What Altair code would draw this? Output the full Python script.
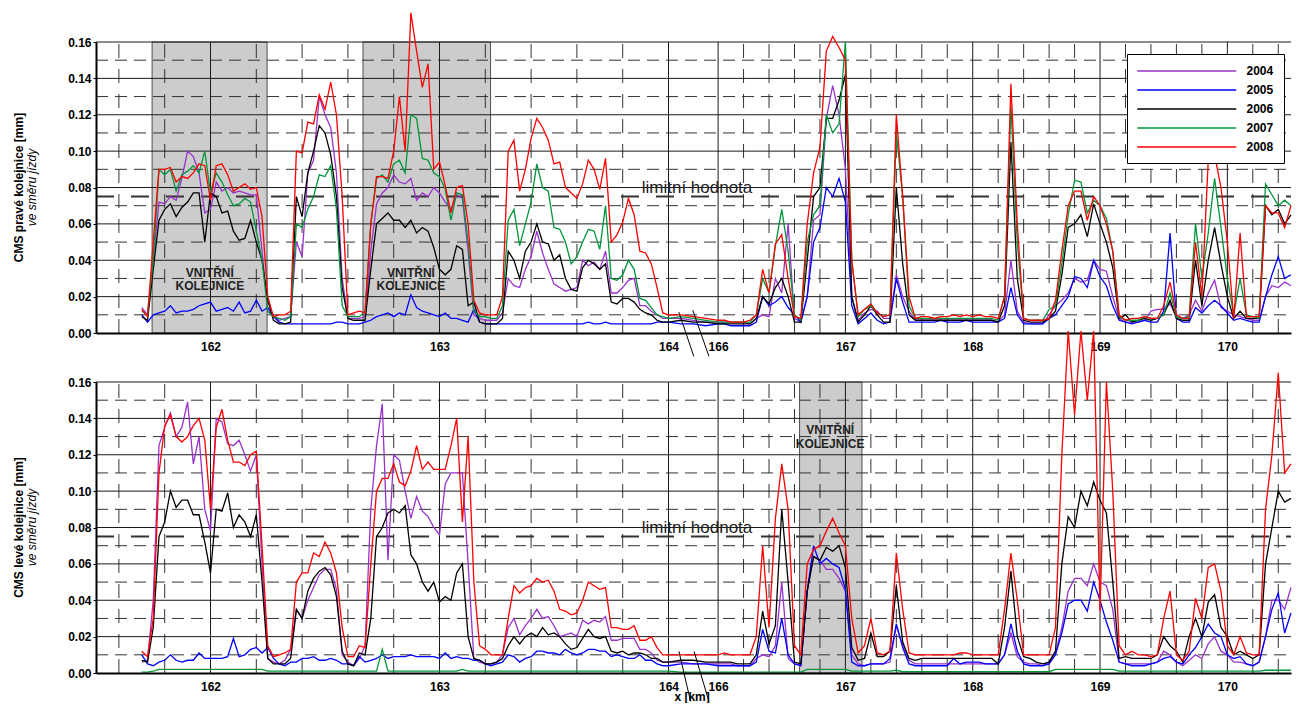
import altair as alt
import pandas as pd

# Measurement positions along the track [km]; 164-166 is a shortened gap
KM_WEST = [round(161.7 + 0.025 * i, 3) for i in range(93)]
KM_GAP = [164.5, 165.0, 165.5]
KM_EAST = [round(166.0 + 0.05 * j, 2) for j in range(91)]
KM = KM_WEST + KM_GAP + KM_EAST

YEARS = ["2004", "2005", "2006", "2007", "2008"]
YEAR_COLORS = ["#9932CC", "#0000FF", "#000000", "#00963C", "#FF0000"]

KM_TICKS = [162, 163, 164, 166, 167, 168, 169, 170]
KM_MINOR = [161.6, 161.8, 162.2, 162.4, 162.6, 162.8, 163.2, 163.4, 163.6, 163.8,
            166.2, 166.4, 166.6, 166.8, 167.2, 167.4, 167.6, 167.8, 168.2, 168.4,
            168.6, 168.8, 169.2, 169.4, 169.6, 169.8, 170.2, 170.4]
CMS_TICKS = [0.0, 0.02, 0.04, 0.06, 0.08, 0.10, 0.12, 0.14, 0.16]
CMS_MINOR = [0.01, 0.03, 0.05, 0.07, 0.09, 0.11, 0.13, 0.15]
LIMIT = 0.075
KM_MIN, KM_MAX = 161.5, 170.5

# --- right rail (pravá kolejnice) -------------------------------------------
PRAVA_2004 = [
    0.014, 0.010, 0.040, 0.072, 0.071, 0.075, 0.073, 0.085, 0.100, 0.097,
    0.088, 0.066, 0.068, 0.083, 0.078, 0.080, 0.077, 0.078, 0.077, 0.076,
    0.076, 0.045, 0.012, 0.009, 0.007, 0.008, 0.009, 0.050, 0.042, 0.088,
    0.095, 0.130, 0.120, 0.113, 0.088, 0.030, 0.008, 0.008, 0.008, 0.009,
    0.045, 0.071, 0.077, 0.080, 0.087, 0.083, 0.082, 0.085, 0.073, 0.077,
    0.075, 0.080, 0.077, 0.072, 0.068, 0.076, 0.074, 0.045, 0.010, 0.008,
    0.007, 0.007, 0.007, 0.011, 0.030, 0.026, 0.025, 0.035, 0.042, 0.056,
    0.044, 0.035, 0.027, 0.025, 0.023, 0.024, 0.025, 0.040, 0.037, 0.039,
    0.035, 0.045, 0.022, 0.022, 0.025, 0.029, 0.030, 0.015, 0.015, 0.012,
    0.010, 0.008, 0.008,
    0.008, 0.007, 0.006,
    0.006, 0.006, 0.006, 0.006, 0.006, 0.005, 0.008, 0.010, 0.009, 0.030,
    0.022, 0.060, 0.008, 0.006, 0.020, 0.062, 0.065, 0.118, 0.136, 0.120,
    0.090, 0.020, 0.007, 0.011, 0.013, 0.012, 0.008, 0.008, 0.032, 0.020,
    0.012, 0.007, 0.007, 0.007, 0.007, 0.007, 0.007, 0.007, 0.007, 0.007,
    0.007, 0.007, 0.007, 0.007, 0.006, 0.010, 0.040, 0.012, 0.006, 0.005,
    0.005, 0.005, 0.010, 0.015, 0.018, 0.022, 0.030, 0.028, 0.029, 0.040,
    0.035, 0.034, 0.020, 0.008, 0.006, 0.006, 0.006, 0.007, 0.012, 0.013,
    0.013, 0.016, 0.009, 0.008, 0.010, 0.018, 0.012, 0.022, 0.029, 0.014,
    0.012, 0.010, 0.009, 0.008, 0.007, 0.007, 0.020, 0.026, 0.025, 0.028,
    0.026,
]
PRAVA_2005 = [
    0.010, 0.006, 0.010, 0.011, 0.012, 0.015, 0.011, 0.012, 0.012, 0.013,
    0.015, 0.016, 0.017, 0.012, 0.013, 0.014, 0.012, 0.017, 0.011, 0.012,
    0.018, 0.012, 0.014, 0.009, 0.006, 0.005, 0.005, 0.005, 0.005, 0.005,
    0.005, 0.005, 0.005, 0.005, 0.006, 0.006, 0.005, 0.005, 0.005, 0.006,
    0.007, 0.009, 0.010, 0.011, 0.009, 0.011, 0.010, 0.021, 0.014, 0.012,
    0.011, 0.010, 0.009, 0.011, 0.008, 0.008, 0.007, 0.006, 0.013, 0.006,
    0.005, 0.005, 0.005, 0.005, 0.005, 0.005, 0.005, 0.005, 0.005, 0.005,
    0.005, 0.005, 0.005, 0.005, 0.005, 0.005, 0.005, 0.005, 0.006, 0.005,
    0.005, 0.006, 0.005, 0.005, 0.005, 0.005, 0.005, 0.005, 0.005, 0.005,
    0.006, 0.006, 0.006,
    0.005, 0.005, 0.004,
    0.005, 0.005, 0.004, 0.004, 0.004, 0.004, 0.006, 0.020, 0.015, 0.017,
    0.020, 0.014, 0.010, 0.006, 0.020, 0.050, 0.058, 0.080, 0.075, 0.085,
    0.072, 0.015, 0.005, 0.008, 0.011, 0.007, 0.005, 0.006, 0.030, 0.017,
    0.006, 0.006, 0.006, 0.006, 0.006, 0.007, 0.006, 0.006, 0.006, 0.007,
    0.006, 0.006, 0.006, 0.006, 0.006, 0.008, 0.025, 0.010, 0.005, 0.005,
    0.005, 0.005, 0.008, 0.010, 0.015, 0.020, 0.031, 0.030, 0.025, 0.040,
    0.031, 0.026, 0.015, 0.007, 0.006, 0.005, 0.006, 0.007, 0.006, 0.006,
    0.012, 0.055, 0.008, 0.006, 0.006, 0.014, 0.011, 0.015, 0.018, 0.015,
    0.011, 0.007, 0.008, 0.007, 0.006, 0.006, 0.020, 0.032, 0.042, 0.030,
    0.032,
]
PRAVA_2006 = [
    0.009, 0.007, 0.035, 0.062, 0.068, 0.071, 0.064, 0.069, 0.072, 0.077,
    0.077, 0.050, 0.077, 0.075, 0.066, 0.067, 0.056, 0.051, 0.052, 0.062,
    0.050, 0.040, 0.018, 0.007, 0.005, 0.005, 0.006, 0.075, 0.064, 0.088,
    0.100, 0.114, 0.110, 0.098, 0.075, 0.025, 0.008, 0.007, 0.007, 0.007,
    0.035, 0.060, 0.063, 0.066, 0.062, 0.062, 0.058, 0.062, 0.055, 0.058,
    0.056, 0.047, 0.035, 0.032, 0.035, 0.048, 0.046, 0.015, 0.017, 0.006,
    0.005, 0.005, 0.005, 0.008, 0.045, 0.040, 0.030, 0.045, 0.050, 0.060,
    0.050, 0.049, 0.040, 0.043, 0.030, 0.024, 0.023, 0.036, 0.040, 0.038,
    0.035, 0.038, 0.017, 0.016, 0.019, 0.019, 0.017, 0.013, 0.011, 0.010,
    0.007, 0.006, 0.006,
    0.007, 0.006, 0.006,
    0.005, 0.005, 0.005, 0.005, 0.005, 0.005, 0.008, 0.020, 0.016, 0.025,
    0.030, 0.020, 0.006, 0.006, 0.040, 0.075, 0.080, 0.118, 0.118, 0.128,
    0.142, 0.020, 0.006, 0.010, 0.015, 0.010, 0.006, 0.006, 0.080, 0.038,
    0.010, 0.007, 0.007, 0.007, 0.007, 0.007, 0.007, 0.007, 0.007, 0.007,
    0.007, 0.007, 0.007, 0.007, 0.006, 0.015, 0.105, 0.030, 0.007, 0.006,
    0.006, 0.006, 0.008, 0.012, 0.032, 0.058, 0.060, 0.065, 0.053, 0.071,
    0.060, 0.050, 0.036, 0.008, 0.010, 0.006, 0.007, 0.008, 0.007, 0.008,
    0.010, 0.018, 0.008, 0.007, 0.007, 0.040, 0.015, 0.040, 0.058, 0.038,
    0.020, 0.008, 0.012, 0.008, 0.008, 0.008, 0.070, 0.065, 0.068, 0.060,
    0.065,
]
PRAVA_2007 = [
    0.012, 0.010, 0.040, 0.090, 0.087, 0.090, 0.078, 0.087, 0.089, 0.092,
    0.088, 0.100, 0.077, 0.088, 0.083, 0.076, 0.070, 0.071, 0.074, 0.072,
    0.056, 0.040, 0.012, 0.009, 0.008, 0.007, 0.009, 0.060, 0.058, 0.068,
    0.075, 0.087, 0.086, 0.092, 0.068, 0.015, 0.009, 0.009, 0.009, 0.012,
    0.060, 0.085, 0.087, 0.083, 0.093, 0.095, 0.088, 0.120, 0.118, 0.096,
    0.095, 0.088, 0.086, 0.079, 0.062, 0.077, 0.076, 0.050, 0.012, 0.009,
    0.009, 0.008, 0.008, 0.015, 0.062, 0.068, 0.048, 0.060, 0.072, 0.093,
    0.080, 0.078, 0.058, 0.057, 0.050, 0.038, 0.042, 0.050, 0.057, 0.056,
    0.046, 0.070, 0.030, 0.029, 0.032, 0.040, 0.035, 0.019, 0.018, 0.014,
    0.010, 0.009, 0.008,
    0.009, 0.008, 0.007,
    0.006, 0.006, 0.006, 0.006, 0.006, 0.006, 0.010, 0.030, 0.022, 0.048,
    0.068, 0.045, 0.010, 0.007, 0.050, 0.065, 0.070, 0.120, 0.110, 0.115,
    0.160, 0.040, 0.009, 0.013, 0.015, 0.011, 0.009, 0.010, 0.110, 0.075,
    0.015, 0.008, 0.008, 0.008, 0.008, 0.008, 0.008, 0.008, 0.008, 0.008,
    0.008, 0.008, 0.008, 0.008, 0.007, 0.020, 0.125, 0.050, 0.008, 0.007,
    0.007, 0.007, 0.013, 0.015, 0.038, 0.065, 0.084, 0.083, 0.066, 0.073,
    0.070, 0.063, 0.045, 0.009, 0.007, 0.007, 0.007, 0.009, 0.008, 0.008,
    0.010, 0.022, 0.009, 0.008, 0.009, 0.060, 0.030, 0.055, 0.085, 0.058,
    0.030, 0.010, 0.030, 0.010, 0.009, 0.008, 0.082, 0.076, 0.070, 0.073,
    0.070,
]
PRAVA_2008 = [
    0.013, 0.009, 0.050, 0.090, 0.090, 0.091, 0.083, 0.086, 0.085, 0.088,
    0.093, 0.092, 0.073, 0.092, 0.093, 0.087, 0.078, 0.080, 0.082, 0.079,
    0.080, 0.064, 0.020, 0.009, 0.010, 0.010, 0.012, 0.100, 0.099, 0.116,
    0.115, 0.131, 0.123, 0.138, 0.120, 0.075, 0.010, 0.011, 0.012, 0.011,
    0.060, 0.086, 0.086, 0.085, 0.100, 0.130, 0.100, 0.176, 0.155, 0.135,
    0.148, 0.090, 0.094, 0.081, 0.066, 0.080, 0.081, 0.060, 0.018, 0.011,
    0.010, 0.010, 0.010, 0.020, 0.100, 0.106, 0.078, 0.090, 0.107, 0.118,
    0.113, 0.106, 0.093, 0.094, 0.080, 0.077, 0.074, 0.082, 0.095, 0.090,
    0.079, 0.096, 0.050, 0.054, 0.061, 0.074, 0.065, 0.045, 0.044, 0.038,
    0.025, 0.011, 0.010,
    0.010, 0.009, 0.008,
    0.007, 0.007, 0.006, 0.006, 0.006, 0.007, 0.010, 0.035, 0.022, 0.049,
    0.054, 0.030, 0.009, 0.008, 0.060, 0.088, 0.102, 0.155, 0.163, 0.157,
    0.150, 0.040, 0.010, 0.013, 0.016, 0.011, 0.009, 0.010, 0.120, 0.075,
    0.020, 0.008, 0.009, 0.009, 0.008, 0.009, 0.009, 0.010, 0.009, 0.010,
    0.009, 0.010, 0.009, 0.009, 0.008, 0.020, 0.137, 0.060, 0.008, 0.007,
    0.007, 0.007, 0.008, 0.018, 0.045, 0.070, 0.078, 0.078, 0.062, 0.075,
    0.070, 0.060, 0.045, 0.010, 0.007, 0.008, 0.008, 0.009, 0.008, 0.008,
    0.015, 0.028, 0.010, 0.008, 0.008, 0.050, 0.020, 0.095, 0.098, 0.080,
    0.050, 0.008, 0.055, 0.009, 0.009, 0.009, 0.070, 0.066, 0.066, 0.058,
    0.070,
]

# --- left rail (levá kolejnice) ---------------------------------------------
LEVA_2004 = [
    0.006, 0.007, 0.040, 0.125, 0.135, 0.143, 0.130, 0.135, 0.149, 0.115,
    0.130, 0.090, 0.078, 0.140, 0.138, 0.126, 0.125, 0.128, 0.120, 0.111,
    0.120, 0.060, 0.008, 0.006, 0.005, 0.007, 0.013, 0.035, 0.030, 0.040,
    0.047, 0.054, 0.057, 0.057, 0.046, 0.010, 0.006, 0.004, 0.008, 0.015,
    0.090, 0.125, 0.148, 0.062, 0.120, 0.117, 0.100, 0.085, 0.097, 0.089,
    0.086, 0.080, 0.076, 0.104, 0.110, 0.110, 0.110, 0.060, 0.008, 0.006,
    0.005, 0.005, 0.006, 0.010, 0.025, 0.030, 0.021, 0.026, 0.030, 0.035,
    0.030, 0.031, 0.026, 0.020, 0.021, 0.022, 0.020, 0.029, 0.027, 0.029,
    0.028, 0.031, 0.018, 0.018, 0.019, 0.019, 0.019, 0.013, 0.013, 0.011,
    0.007, 0.006, 0.006,
    0.006, 0.005, 0.005,
    0.005, 0.005, 0.005, 0.004, 0.004, 0.004, 0.008, 0.010, 0.009, 0.015,
    0.050, 0.008, 0.005, 0.004, 0.045, 0.064, 0.062, 0.057, 0.057, 0.052,
    0.045, 0.010, 0.005, 0.004, 0.005, 0.005, 0.005, 0.006, 0.026, 0.015,
    0.007, 0.005, 0.005, 0.005, 0.005, 0.005, 0.005, 0.005, 0.005, 0.005,
    0.005, 0.005, 0.005, 0.005, 0.005, 0.010, 0.022, 0.009, 0.006, 0.005,
    0.005, 0.004, 0.006, 0.011, 0.025, 0.045, 0.052, 0.052, 0.048, 0.060,
    0.050, 0.048, 0.035, 0.006, 0.005, 0.005, 0.005, 0.005, 0.005, 0.006,
    0.012, 0.010, 0.006, 0.004, 0.007, 0.010, 0.008, 0.016, 0.020, 0.012,
    0.010, 0.006, 0.006, 0.005, 0.004, 0.006, 0.020, 0.040, 0.040, 0.035,
    0.047,
]
LEVA_2005 = [
    0.010, 0.005, 0.004, 0.006, 0.007, 0.010, 0.007, 0.006, 0.007, 0.007,
    0.011, 0.008, 0.008, 0.008, 0.008, 0.009, 0.019, 0.009, 0.010, 0.013,
    0.014, 0.011, 0.014, 0.008, 0.005, 0.004, 0.006, 0.006, 0.008, 0.008,
    0.009, 0.007, 0.007, 0.008, 0.007, 0.005, 0.005, 0.004, 0.009, 0.006,
    0.007, 0.008, 0.010, 0.008, 0.009, 0.009, 0.009, 0.010, 0.009, 0.009,
    0.009, 0.009, 0.008, 0.011, 0.008, 0.009, 0.008, 0.008, 0.007, 0.007,
    0.005, 0.004, 0.005, 0.006, 0.010, 0.009, 0.006, 0.008, 0.009, 0.012,
    0.012, 0.011, 0.011, 0.010, 0.013, 0.011, 0.010, 0.011, 0.013, 0.013,
    0.012, 0.012, 0.009, 0.010, 0.009, 0.008, 0.008, 0.010, 0.007, 0.007,
    0.005, 0.004, 0.004,
    0.005, 0.005, 0.005,
    0.004, 0.004, 0.004, 0.004, 0.004, 0.004, 0.006, 0.024, 0.012, 0.011,
    0.030, 0.010, 0.005, 0.004, 0.045, 0.070, 0.060, 0.063, 0.060, 0.058,
    0.046, 0.006, 0.004, 0.004, 0.005, 0.005, 0.005, 0.008, 0.027, 0.014,
    0.005, 0.004, 0.004, 0.004, 0.004, 0.004, 0.004, 0.008, 0.005, 0.006,
    0.006, 0.006, 0.005, 0.005, 0.005, 0.010, 0.027, 0.012, 0.005, 0.004,
    0.004, 0.004, 0.005, 0.010, 0.022, 0.038, 0.040, 0.040, 0.034, 0.050,
    0.040, 0.028, 0.018, 0.006, 0.005, 0.004, 0.004, 0.004, 0.005, 0.006,
    0.008, 0.009, 0.006, 0.005, 0.010, 0.014, 0.020, 0.027, 0.022, 0.020,
    0.010, 0.008, 0.009, 0.005, 0.004, 0.006, 0.020, 0.035, 0.044, 0.022,
    0.033,
]
LEVA_2006 = [
    0.007, 0.006, 0.025, 0.075, 0.083, 0.100, 0.091, 0.095, 0.095, 0.087,
    0.087, 0.072, 0.055, 0.090, 0.089, 0.099, 0.080, 0.087, 0.083, 0.075,
    0.087, 0.050, 0.008, 0.005, 0.005, 0.005, 0.008, 0.035, 0.030, 0.045,
    0.052, 0.056, 0.058, 0.054, 0.042, 0.012, 0.005, 0.004, 0.011, 0.010,
    0.030, 0.075, 0.080, 0.088, 0.090, 0.088, 0.092, 0.065, 0.060, 0.050,
    0.045, 0.050, 0.039, 0.042, 0.040, 0.055, 0.060, 0.020, 0.008, 0.007,
    0.005, 0.005, 0.006, 0.008, 0.015, 0.020, 0.016, 0.020, 0.022, 0.020,
    0.025, 0.021, 0.022, 0.020, 0.016, 0.013, 0.014, 0.019, 0.024, 0.020,
    0.019, 0.020, 0.012, 0.011, 0.012, 0.010, 0.011, 0.011, 0.010, 0.008,
    0.008, 0.006, 0.006,
    0.007, 0.007, 0.006,
    0.006, 0.006, 0.006, 0.005, 0.005, 0.005, 0.010, 0.034, 0.016, 0.026,
    0.090, 0.050, 0.006, 0.005, 0.045, 0.064, 0.062, 0.069, 0.067, 0.070,
    0.058, 0.014, 0.007, 0.008, 0.022, 0.009, 0.009, 0.012, 0.048, 0.017,
    0.008, 0.007, 0.008, 0.008, 0.008, 0.008, 0.008, 0.008, 0.008, 0.008,
    0.008, 0.008, 0.008, 0.008, 0.005, 0.025, 0.056, 0.020, 0.009, 0.008,
    0.006, 0.005, 0.006, 0.012, 0.060, 0.086, 0.080, 0.100, 0.092, 0.105,
    0.095, 0.088, 0.050, 0.008, 0.009, 0.008, 0.008, 0.008, 0.008, 0.010,
    0.020, 0.015, 0.012, 0.006, 0.020, 0.030, 0.020, 0.039, 0.043, 0.025,
    0.020, 0.010, 0.012, 0.010, 0.008, 0.010, 0.060, 0.080, 0.100, 0.094,
    0.096,
]
LEVA_2007 = [
    0.0005, 0.0005, 0.001, 0.002, 0.002, 0.002, 0.002, 0.002, 0.002, 0.002,
    0.002, 0.002, 0.002, 0.002, 0.002, 0.002, 0.002, 0.002, 0.002, 0.002,
    0.002, 0.002, 0.001, 0.001, 0.001, 0.001, 0.001, 0.001, 0.001, 0.001,
    0.001, 0.001, 0.001, 0.001, 0.001, 0.001, 0.001, 0.001, 0.001, 0.001,
    0.001, 0.001, 0.013, 0.001, 0.001, 0.001, 0.001, 0.001, 0.001, 0.001,
    0.001, 0.001, 0.001, 0.001, 0.001, 0.001, 0.002, 0.001, 0.001, 0.001,
    0.001, 0.001, 0.001, 0.001, 0.001, 0.001, 0.001, 0.001, 0.001, 0.001,
    0.001, 0.001, 0.001, 0.001, 0.001, 0.001, 0.001, 0.001, 0.001, 0.001,
    0.001, 0.001, 0.001, 0.001, 0.001, 0.001, 0.001, 0.001, 0.001, 0.001,
    0.001, 0.001, 0.001,
    0.0005, 0.0005, 0.0005,
    0.0005, 0.0005, 0.0005, 0.0005, 0.0005, 0.0005, 0.0005, 0.0005, 0.0005, 0.0005,
    0.0005, 0.0005, 0.0005, 0.0005, 0.002, 0.002, 0.002, 0.002, 0.002, 0.002,
    0.002, 0.001, 0.001, 0.001, 0.001, 0.001, 0.001, 0.001, 0.0015, 0.0007,
    0.0007, 0.0007, 0.0007, 0.0007, 0.0007, 0.0007, 0.0007, 0.0007, 0.0007, 0.0007,
    0.0007, 0.0007, 0.0007, 0.0007, 0.0007, 0.0007, 0.0007, 0.0007, 0.0007, 0.0007,
    0.0007, 0.0007, 0.0007, 0.002, 0.002, 0.002, 0.002, 0.002, 0.002, 0.002,
    0.002, 0.002, 0.002, 0.001, 0.001, 0.001, 0.001, 0.001, 0.001, 0.001,
    0.001, 0.001, 0.001, 0.001, 0.001, 0.001, 0.001, 0.001, 0.001, 0.001,
    0.001, 0.001, 0.001, 0.001, 0.001, 0.001, 0.0015, 0.0015, 0.0015, 0.0015,
    0.0015,
]
LEVA_2008 = [
    0.012, 0.009, 0.030, 0.110, 0.136, 0.142, 0.130, 0.127, 0.130, 0.136,
    0.140, 0.128, 0.090, 0.135, 0.145, 0.128, 0.116, 0.116, 0.114, 0.120,
    0.122, 0.070, 0.015, 0.009, 0.010, 0.011, 0.013, 0.050, 0.055, 0.055,
    0.066, 0.064, 0.072, 0.066, 0.055, 0.025, 0.009, 0.009, 0.015, 0.014,
    0.060, 0.100, 0.107, 0.107, 0.115, 0.105, 0.103, 0.111, 0.125, 0.112,
    0.116, 0.112, 0.112, 0.112, 0.125, 0.140, 0.083, 0.130, 0.050, 0.015,
    0.013, 0.010, 0.010, 0.010, 0.030, 0.048, 0.044, 0.047, 0.048, 0.052,
    0.050, 0.051, 0.045, 0.035, 0.034, 0.032, 0.033, 0.040, 0.050, 0.048,
    0.046, 0.047, 0.025, 0.025, 0.024, 0.024, 0.026, 0.018, 0.018, 0.020,
    0.014, 0.010, 0.010,
    0.010, 0.010, 0.010,
    0.010, 0.011, 0.010, 0.010, 0.010, 0.010, 0.020, 0.070, 0.025, 0.085,
    0.115, 0.090, 0.015, 0.010, 0.060, 0.068, 0.070, 0.078, 0.085, 0.077,
    0.070, 0.030, 0.011, 0.015, 0.030, 0.011, 0.010, 0.012, 0.066, 0.035,
    0.011, 0.010, 0.010, 0.010, 0.010, 0.010, 0.010, 0.010, 0.011, 0.011,
    0.010, 0.010, 0.010, 0.010, 0.010, 0.035, 0.066, 0.040, 0.010, 0.010,
    0.010, 0.010, 0.010, 0.025, 0.120, 0.188, 0.142, 0.188, 0.150, 0.188,
    0.034, 0.160, 0.100, 0.015, 0.010, 0.012, 0.010, 0.010, 0.009, 0.010,
    0.030, 0.045, 0.010, 0.007, 0.012, 0.041, 0.030, 0.058, 0.060, 0.045,
    0.015, 0.010, 0.020, 0.011, 0.010, 0.010, 0.090, 0.120, 0.165, 0.110,
    0.115,
]

# Shaded stretches where the rail is the inner one of the curve
PRAVA_BANDS = {"start": [161.745, 162.666], "end": [162.247, 163.223]}
PRAVA_BAND_TEXT = {"km": [161.997, 161.997, 162.875, 162.875],
                   "cms": [0.0332, 0.0258, 0.0332, 0.0258],
                   "t": ["VNITŘNÍ", "KOLEJNICE", "VNITŘNÍ", "KOLEJNICE"]}
LEVA_BANDS = {"start": [166.64], "end": [167.13]}
LEVA_BAND_TEXT = {"km": [166.88, 166.88], "cms": [0.1338, 0.1258],
                  "t": ["VNITŘNÍ", "KOLEJNICE"]}

# Axis-break strokes across the 164-166 gap
PRAVA_BREAK = {"x0": [164.415, 164.98], "x1": [165.02, 165.63],
               "y0": [0.0115, 0.0125], "y1": [-0.0128, -0.0128]}
LEVA_BREAK = {"x0": [164.42, 165.03], "x1": [164.89, 165.63],
              "y0": [0.0119, 0.0119], "y1": [-0.0156, -0.0156]}

FONT = "Liberation Sans"
X_SCALE = alt.Scale(domain=[KM_MIN, 164, 166, KM_MAX], range=[0, 572.5, 622.1, 1195],
                    zero=False, nice=False)
Y_SCALE = alt.Scale(domain=[0, 0.16], zero=False, nice=False)
PLOT_W, PLOT_H = 1195, 291

X_AXIS = alt.Axis(values=KM_TICKS, format="d", title=None, grid=False, tickSize=0,
                  labelPadding=8, labelFont=FONT, labelFontSize=12,
                  labelFontWeight="bold", labelColor="black", labelFlush=False,
                  domainColor="black", domainWidth=2, zindex=1)
Y_AXIS = alt.Axis(values=CMS_TICKS, format=".2f", title=None, grid=False, tickSize=3,
                  tickColor="black", labelPadding=2, labelFont=FONT, labelFontSize=12,
                  labelFontWeight="bold", labelColor="black",
                  domainColor="black", domainWidth=2, zindex=1)


def series_table(series):
    frames = []
    for year, values in series.items():
        if len(values) != len(KM):
            raise ValueError(f"{year}: {len(values)} values for {len(KM)} positions")
        frames.append(pd.DataFrame({"km": KM, "rok": year, "cms": values}))
    return pd.concat(frames, ignore_index=True)


def xq(field):
    return alt.X(field, type="quantitative", scale=X_SCALE, axis=X_AXIS)


def yq(field):
    return alt.Y(field, type="quantitative", scale=Y_SCALE, axis=Y_AXIS)


def panel(series, y_title, bands, band_text, breaks, legend, km_title):
    h_solid = pd.DataFrame({"cms": CMS_TICKS[1:], "x0": KM_MIN, "x1": KM_MAX})
    h_dash = pd.DataFrame({"cms": CMS_MINOR, "x0": KM_MIN, "x1": KM_MAX})
    v_solid = pd.DataFrame({"km": KM_TICKS, "y0": 0.0, "y1": 0.16})
    v_dash = pd.DataFrame({"km": KM_MINOR, "y0": 0.0, "y1": 0.16})
    limit = pd.DataFrame({"cms": [LIMIT], "x0": [KM_MIN], "x1": [KM_MAX]})
    band_df = pd.DataFrame(bands).assign(top=0.16, bottom=0.0)

    layers = [
        alt.Chart(band_df).mark_rect(fill="#cccccc", stroke="#4d4d4d", strokeWidth=1)
        .encode(x=xq("start"), x2="end", y=yq("top"), y2="bottom"),
        alt.Chart(h_dash).mark_rule(color="#333333", strokeWidth=1, strokeDash=[12, 7])
        .encode(x=xq("x0"), x2="x1", y=yq("cms")),
        alt.Chart(v_dash).mark_rule(color="#333333", strokeWidth=1, strokeDash=[14, 11])
        .encode(x=xq("km"), y=yq("y0"), y2="y1"),
        alt.Chart(h_solid).mark_rule(color="#1a1a1a", strokeWidth=1)
        .encode(x=xq("x0"), x2="x1", y=yq("cms")),
        alt.Chart(v_solid).mark_rule(color="#1a1a1a", strokeWidth=1)
        .encode(x=xq("km"), y=yq("y0"), y2="y1"),
        alt.Chart(limit).mark_rule(color="#333333", strokeWidth=2, strokeDash=[18, 17])
        .encode(x=xq("x0"), x2="x1", y=yq("cms")),
        alt.Chart(pd.DataFrame({"km": [163.883], "cms": [0.077], "t": ["limitní hodnota"]}))
        .mark_text(align="left", baseline="alphabetic", font=FONT, fontSize=17,
                   color="#222222")
        .encode(x=xq("km"), y=yq("cms"), text="t:N"),
        alt.Chart(pd.DataFrame(band_text))
        .mark_text(align="center", baseline="middle", font=FONT, fontSize=12,
                   fontWeight="bold", color="#222222")
        .encode(x=xq("km"), y=yq("cms"), text="t:N"),
    ]

    color = alt.Color("rok:N", scale=alt.Scale(domain=YEARS, range=YEAR_COLORS),
                      legend=legend)
    layers.append(
        alt.Chart(series_table(series)).mark_line(strokeWidth=1.3, clip=False).encode(
            x=xq("km"), y=yq("cms"), color=color,
        )
    )
    layers.append(
        alt.Chart(pd.DataFrame(breaks)).mark_rule(color="black", strokeWidth=1)
        .encode(x=xq("x0"), x2="x1", y=yq("y0"), y2="y1")
    )
    layers.append(
        alt.Chart(pd.DataFrame({"t": [y_title]}))
        .mark_text(angle=270, align="center", baseline="middle", font=FONT, fontSize=12,
                   fontWeight="bold", color="black")
        .encode(text="t:N", x=alt.value(-77), y=alt.value(PLOT_H / 2))
    )
    layers.append(
        alt.Chart(pd.DataFrame({"t": ["ve směru jízdy"]}))
        .mark_text(angle=270, align="center", baseline="middle", font=FONT, fontSize=12,
                   fontStyle="italic", color="black")
        .encode(text="t:N", x=alt.value(-64), y=alt.value(PLOT_H / 2))
    )
    if km_title:
        layers.append(
            alt.Chart(pd.DataFrame({"km": [164.95], "cms": [-0.0152], "t": ["x [km]"]}))
            .mark_text(align="center", baseline="alphabetic", font=FONT, fontSize=12,
                       fontWeight="bold", color="black")
            .encode(x=xq("km"), y=yq("cms"), text="t:N")
        )
    return alt.layer(*layers).properties(width=PLOT_W, height=PLOT_H)


# Legend entries: a long horizontal stroke followed by the year
year_legend = alt.Legend(
    title=None, orient="none", legendX=1031, legendY=12,
    symbolType="M-8.25,0H8.25", symbolSize=144, symbolStrokeWidth=1.5,
    symbolOffset=42.75, labelOffset=52.75,
    labelFont=FONT, labelFontSize=12, labelFontWeight="bold", labelColor="black",
    padding=10, rowPadding=6,
    strokeColor="black", fillColor="white",
)

top = panel(
    {"2004": PRAVA_2004, "2005": PRAVA_2005, "2006": PRAVA_2006,
     "2007": PRAVA_2007, "2008": PRAVA_2008},
    "CMS pravé kolejnice [mm]", PRAVA_BANDS, PRAVA_BAND_TEXT, PRAVA_BREAK,
    year_legend, False,
)
bottom = panel(
    {"2004": LEVA_2004, "2005": LEVA_2005, "2006": LEVA_2006,
     "2007": LEVA_2007, "2008": LEVA_2008},
    "CMS levé kolejnice [mm]", LEVA_BANDS, LEVA_BAND_TEXT, LEVA_BREAK,
    None, True,
)

chart = (
    alt.vconcat(top, bottom, spacing=49, bounds="flush")
    .resolve_scale(color="independent")
    .resolve_legend(color="independent")
    .properties(padding={"left": 13, "top": 10, "right": 0, "bottom": 0})
    .configure_view(stroke=None)
)

chart.save("out.html", embed_options={"renderer": "svg", "actions": False})
